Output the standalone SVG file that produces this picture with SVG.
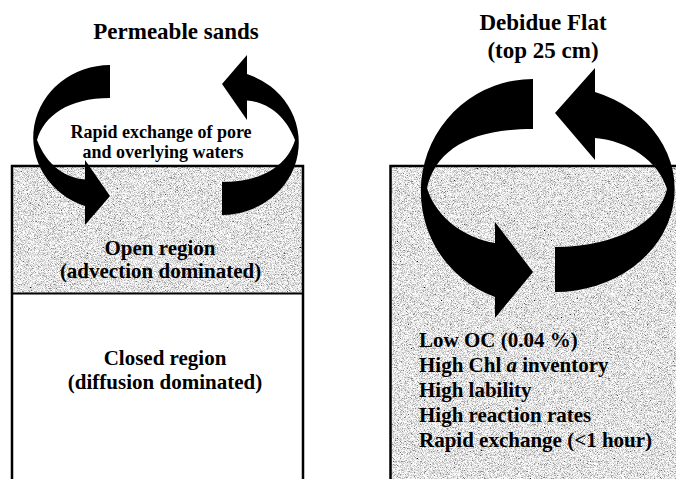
<svg xmlns="http://www.w3.org/2000/svg" width="676" height="479" viewBox="0 0 676 479">
<defs>
<filter id="grain" x="0" y="0" width="1" height="1">
<feTurbulence type="fractalNoise" baseFrequency="1.3" numOctaves="2" seed="7"/>
<feColorMatrix type="matrix" values="2 0 0 0 -0.23  2 0 0 0 -0.23  2 0 0 0 -0.23  0 0 0 0 1"/>
</filter>
<style>
.t{font-family:"Liberation Serif","Times New Roman",serif;font-weight:bold;fill:#000}
.title{font-size:23px;text-anchor:middle}
.mid{font-size:21px;text-anchor:middle}
.list{font-size:21px}
.small{font-size:18px;text-anchor:middle}
.border{fill:none;stroke:#000;stroke-width:2.5}
.arrow{fill:#000}
.sand{fill:#c4c4c4}
</style>
</defs>
<rect width="676" height="479" fill="#fff"/>
<g id="left-panel">
<rect class="sand" x="12" y="166" width="291" height="127" filter="url(#grain)"/>
<path class="border" d="M12 479V166H303V479"/>
<line x1="12" y1="293.5" x2="303" y2="293.5" stroke="#000" stroke-width="2"/>
<text class="t title" x="176" y="39">Permeable sands</text>
</g>
<g id="right-panel">
<rect class="sand" x="391" y="166" width="285" height="313" filter="url(#grain)"/>
<path class="border" d="M390.5 479V166H676"/>
<text class="t title" x="543" y="30">Debidue Flat</text>
<text class="t title" x="543" y="58">(top 25 cm)</text>
</g>
<g id="connectors">
<path id="arrow-left-down" class="arrow" d="M110 65A77 72.5 0 0 0 85 206L85 225L110 196L85 160L85 179.5C66 178 47 166 37 140C44 116 68 98 110 98Z"/>
<path id="arrow-left-up" class="arrow" transform="rotate(180 166 140)" d="M110 65A77 72.5 0 0 0 85 206L85 225L110 196L85 160L85 179.5C66 178 47 166 37 140C44 116 68 98 110 98Z"/>
<path id="arrow-right-down" class="arrow" d="M533 79A112 112.3 0 0 0 495 297L495 318L533 272L495 222L495 243C465 238 436 218 427 188C436 150 470 129 533 129Z"/>
<path id="arrow-right-up" class="arrow" d="M555 292A120 103 0 0 0 595 92L595 68L555 113L595 160L595 138C628 141 658 160 667 189C660 220 620 247 555 247Z"/>
</g>
<g id="left-labels">
<text class="t small" x="161" y="137.8">Rapid exchange of pore</text>
<text class="t small" x="163" y="157.8">and overlying waters</text>
<text class="t mid" x="160" y="255">Open region</text>
<text class="t mid" x="160.5" y="278">(advection dominated)</text>
<text class="t mid" x="165" y="365">Closed region</text>
<text class="t mid" x="165" y="389">(diffusion dominated)</text>
</g>
<g id="right-labels">
<text class="t list" x="419" y="347">Low OC (0.04 %)</text>
<text class="t list" x="419" y="372">High Chl <tspan font-style="italic">a</tspan> inventory</text>
<text class="t list" x="419" y="397">High lability</text>
<text class="t list" x="419" y="422">High reaction rates</text>
<text class="t list" x="419" y="447">Rapid exchange (&lt;1 hour)</text>
</g>
</svg>
